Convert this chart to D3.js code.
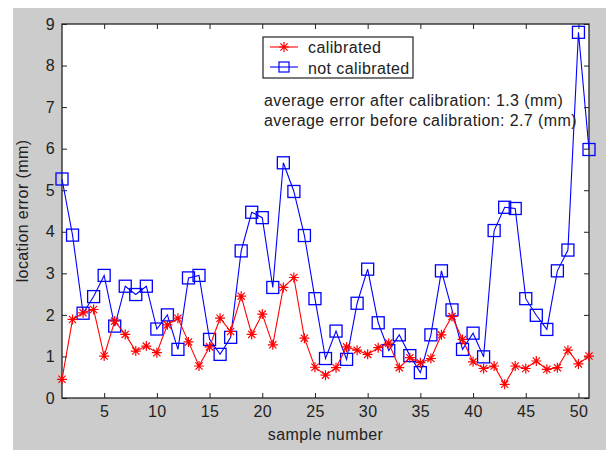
<!DOCTYPE html>
<html>
<head>
<meta charset="utf-8">
<script src="https://cdn.jsdelivr.net/npm/d3@7"></script>
<style>
  body { margin: 0; background: #fff; }
  svg text { font-family: "Liberation Sans", Arial, sans-serif; fill: #222; letter-spacing: 0.4px; }
</style>
</head>
<body>
<svg id="chart" width="616" height="450"></svg>
<script>
// sample index 1..51
const samples = d3.range(1, 52);
const calibrated = [0.45, 1.89, 2.05, 2.13, 1.01, 1.85, 1.53, 1.13, 1.25, 1.09,
  1.76, 1.92, 1.35, 0.77, 1.23, 1.92, 1.6, 2.45, 1.53, 2.02,
  1.28, 2.66, 2.9, 1.44, 0.74, 0.55, 0.73, 1.23, 1.15, 1.05,
  1.21, 1.32, 0.73, 0.97, 0.85, 0.95, 1.52, 1.96, 1.41, 0.87,
  0.71, 0.77, 0.33, 0.77, 0.71, 0.89, 0.69, 0.73, 1.15, 0.82, 1.01];
const notCalibrated = [5.27, 3.92, 2.04, 2.44, 2.95, 1.73, 2.69, 2.49, 2.69, 1.66,
  2.0, 1.17, 2.89, 2.95, 1.41, 1.05, 1.46, 3.54, 4.47, 4.34,
  2.66, 5.66, 4.97, 3.91, 2.39, 0.95, 1.61, 0.93, 2.28, 3.1,
  1.81, 1.14, 1.52, 1.02, 0.61, 1.52, 3.06, 2.12, 1.17, 1.56,
  0.99, 4.03, 4.59, 4.56, 2.39, 1.99, 1.65, 3.06, 3.56, 8.8, 5.98];
const xTicks = [5, 10, 15, 20, 25, 30, 35, 40, 45, 50];
const yTicks = [0, 1, 2, 3, 4, 5, 6, 7, 8, 9];
const seriesNames = ["calibrated", "not calibrated"];
const notes = ["average error after calibration: 1.3 (mm)",
  "average error before calibration: 2.7 (mm)"];

const svg = d3.select("#chart");
const mLeft = 62, mRight = 589, mTop = 24, mBottom = 398;

// matlab grey figure
svg.append("rect").attr("x", 13).attr("y", 8).attr("width", 593).attr("height", 442).attr("fill", "#cccccc");
svg.append("rect").attr("x", mLeft).attr("y", mTop).attr("width", mRight - mLeft).attr("height", mBottom - mTop).attr("fill", "#fff");

const x = d3.scaleLinear().domain([1, 51]).range([mLeft, mRight]);
const y = d3.scaleLinear().domain([0, 9]).range([mBottom, mTop]);

function styleAxis(g) {
  g.select(".domain").remove();
  g.selectAll(".tick line").attr("stroke", "#222");
  g.selectAll(".tick text").attr("font-size", 16).attr("fill", "#222");
}

svg.append("g").attr("transform", `translate(0,${mBottom})`)
  .call(d3.axisBottom(x).tickValues(xTicks).tickSize(-5).tickPadding(8))
  .call(styleAxis);
svg.append("g").attr("transform", `translate(0,${mTop})`)
  .call(d3.axisTop(x).tickValues(xTicks).tickSize(-5).tickFormat(""))
  .call(styleAxis);
svg.append("g").attr("transform", `translate(${mLeft},0)`)
  .call(d3.axisLeft(y).tickValues(yTicks).tickSize(-5).tickPadding(7))
  .call(styleAxis);
svg.append("g").attr("transform", `translate(${mRight},0)`)
  .call(d3.axisRight(y).tickValues(yTicks).tickSize(-5).tickFormat(""))
  .call(styleAxis);

svg.append("rect").attr("x", mLeft).attr("y", mTop).attr("width", mRight - mLeft).attr("height", mBottom - mTop)
  .attr("fill", "none").attr("stroke", "#222").attr("stroke-width", 1.3);

const line = d3.line().x((d, i) => x(samples[i])).y(d => y(d));

function star(g, cx, cy, r) {
  const p = d3.path();
  p.moveTo(cx - r, cy); p.lineTo(cx + r, cy);
  p.moveTo(cx, cy - r); p.lineTo(cx, cy + r);
  const k = r * 0.72;
  p.moveTo(cx - k, cy - k); p.lineTo(cx + k, cy + k);
  p.moveTo(cx - k, cy + k); p.lineTo(cx + k, cy - k);
  g.append("path").attr("d", p.toString()).attr("stroke", "#ff0000").attr("stroke-width", 1.2).attr("fill", "none");
}

// not calibrated
svg.append("path").datum(notCalibrated).attr("d", line)
  .attr("fill", "none").attr("stroke", "#0000ff").attr("stroke-width", 1.1);
svg.append("g").selectAll("rect").data(notCalibrated).join("rect")
  .attr("x", (d, i) => x(samples[i]) - 6)
  .attr("y", d => y(d) - 6)
  .attr("width", 12).attr("height", 12)
  .attr("fill", "none").attr("stroke", "#0000ff").attr("stroke-width", 1.3);

// calibrated
svg.append("path").datum(calibrated).attr("d", line)
  .attr("fill", "none").attr("stroke", "#ff0000").attr("stroke-width", 1.1);
const stars = svg.append("g");
calibrated.forEach((d, i) => star(stars, x(samples[i]), y(d), 5));

// legend
const lg = svg.append("g");
lg.append("rect").attr("x", 263).attr("y", 37).attr("width", 150).attr("height", 41)
  .attr("fill", "#fff").attr("stroke", "#222").attr("stroke-width", 1.2);
lg.append("line").attr("x1", 270).attr("x2", 298).attr("y1", 47).attr("y2", 47).attr("stroke", "#ff0000").attr("stroke-width", 1.1);
star(lg, 284, 47, 5);
lg.append("line").attr("x1", 270).attr("x2", 298).attr("y1", 67).attr("y2", 67).attr("stroke", "#0000ff").attr("stroke-width", 1.1);
lg.append("rect").attr("x", 279).attr("y", 62).attr("width", 10).attr("height", 10)
  .attr("fill", "none").attr("stroke", "#0000ff").attr("stroke-width", 1.2);
lg.selectAll("text").data(seriesNames).join("text")
  .attr("x", 308).attr("y", (d, i) => 53 + i * 21)
  .attr("font-size", 16).text(d => d);

// annotation
svg.selectAll(".note").data(notes).join("text").attr("class", "note")
  .attr("x", 264).attr("y", (d, i) => 106 + i * 20)
  .attr("font-size", 16).text(d => d);

// axis titles
svg.append("text").attr("x", (mLeft + mRight) / 2).attr("y", 440)
  .attr("text-anchor", "middle").attr("font-size", 16).text("sample number");
svg.append("text").attr("transform", `translate(28,${(mTop + mBottom) / 2}) rotate(-90)`)
  .attr("text-anchor", "middle").attr("font-size", 16).text("location error (mm)");
</script>
</body>
</html>
